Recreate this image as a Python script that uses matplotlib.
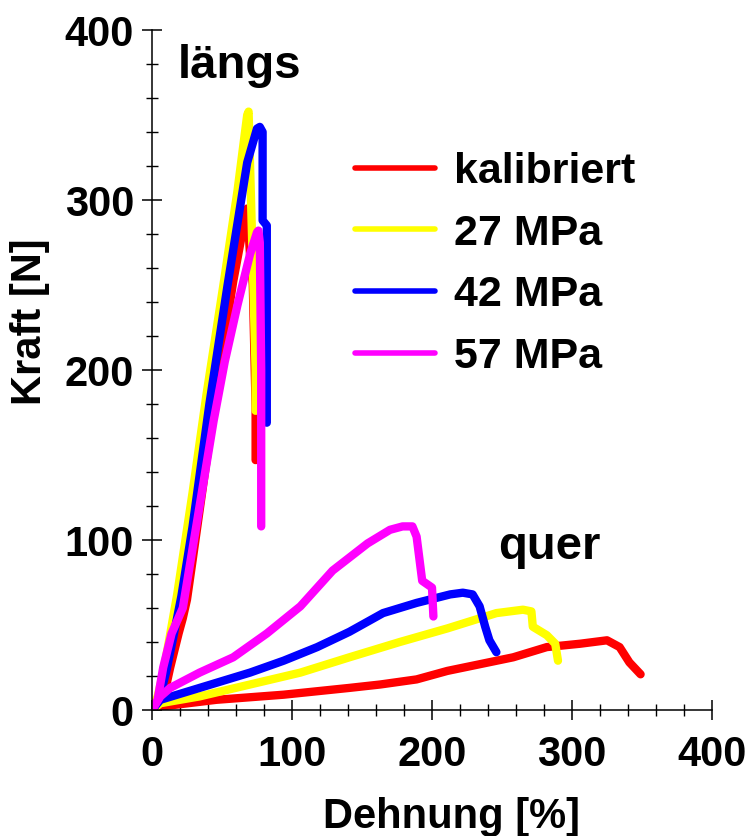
import matplotlib
matplotlib.use("Agg")
import matplotlib.pyplot as plt
from matplotlib.ticker import MultipleLocator

plt.rcParams["font.family"] = ["Liberation Sans", "DejaVu Sans"]
plt.rcParams["font.weight"] = "bold"

# series names and colours
labels = ["kalibriert", "27 MPa", "42 MPa", "57 MPa"]
colors = ["#ff0000", "#ffff00", "#0000ff", "#ff00ff"]

# längs (longitudinal) curves: Dehnung [%], Kraft [N]
kal_l_x = [0, 5, 9, 13, 19, 22, 25, 29, 37, 46, 58, 65, 68, 70, 71, 72, 74, 74]
kal_l_y = [0, 2, 10, 25, 45, 54, 65, 88, 135, 188, 252, 283, 295, 268, 262, 250, 178, 147]
y27_l_x = [0, 4, 8, 12, 18, 29, 39, 51, 61, 68, 69, 70, 72, 74, 74]
y27_l_y = [0, 8, 22, 40, 68, 128, 186, 250, 305, 350, 352, 322, 262, 200, 176]
y42_l_x = [0, 5, 10, 15, 21, 29, 41, 54, 68, 75, 77, 79, 79, 82, 82]
y42_l_y = [0, 6, 22, 42, 67, 108, 180, 250, 322, 342, 343, 340, 288, 285, 169]
y57_l_x = [0, 4, 8, 14, 22, 32, 44, 52, 61, 70, 75, 76, 77, 78, 78]
y57_l_y = [0, 6, 25, 45, 60, 110, 170, 205, 238, 268, 281, 282, 275, 200, 108]

# quer (transverse) curves
kal_q_x = [0, 6, 46, 94, 141, 163, 189, 211, 258, 282, 306, 325, 334, 341, 349]
kal_q_y = [0, 2, 6, 9, 13, 15, 18, 23, 31, 37, 39, 41, 37, 28, 21]
y27_q_x = [0, 6, 34, 70, 106, 141, 177, 211, 246, 265, 271, 272, 282, 288, 290]
y27_q_y = [0, 4, 8, 15, 22, 31, 40, 48, 57, 59, 58, 49, 44, 39, 29]
y42_q_x = [0, 6, 22, 46, 70, 94, 118, 141, 165, 189, 213, 222, 229, 234, 238, 241, 246]
y42_q_y = [0, 6, 10, 16, 22, 29, 37, 46, 57, 63, 68, 69, 68, 61, 49, 41, 34]
y57_q_x = [0, 6, 13, 34, 58, 82, 106, 129, 154, 170, 179, 186, 189, 193, 200, 201]
y57_q_y = [0, 8, 13, 22, 31, 45, 61, 82, 98, 106, 108, 108, 102, 76, 72, 55]

laengs = [(kal_l_x, kal_l_y), (y27_l_x, y27_l_y), (y42_l_x, y42_l_y), (y57_l_x, y57_l_y)]
quer = [(kal_q_x, kal_q_y), (y27_q_x, y27_q_y), (y42_q_x, y42_q_y), (y57_q_x, y57_q_y)]

fig = plt.figure(figsize=(7.51, 8.36), dpi=100)
ax = fig.add_axes([152 / 751, 1 - 710 / 836, 560 / 751, 680 / 836])

line_kw = dict(lw=6, solid_capstyle="round", solid_joinstyle="round")
for (lx, ly), (qx, qy), c, lab in zip(laengs, quer, colors, labels):
    ax.plot(qx, qy, color=c, **line_kw)
    ax.plot(lx, ly, color=c, label=lab, **line_kw)

ax.set_xlim(0, 400)
ax.set_ylim(0, 400)
for s in ["top", "right"]:
    ax.spines[s].set_visible(False)
for s in ["left", "bottom"]:
    ax.spines[s].set_linewidth(1.1)

ax.xaxis.set_major_locator(MultipleLocator(100))
ax.xaxis.set_minor_locator(MultipleLocator(20))
ax.yaxis.set_major_locator(MultipleLocator(100))
ax.yaxis.set_minor_locator(MultipleLocator(20))
ax.tick_params(which="major", direction="inout", length=14, width=1.1,
               labelsize=30, pad=6)
ax.tick_params(which="minor", direction="inout", length=8, width=1)
ax.tick_params(axis="x", which="major", pad=11)
for t in ax.get_xticklabels() + ax.get_yticklabels():
    t.set_fontweight("bold")

fig.text(30 / 751, 1 - 322 / 836, "Kraft [N]", rotation=90, fontsize=30,
         fontweight="bold", ha="center", va="center")
fig.text(452 / 751, (836 - 828) / 836, "Dehnung [%]", fontsize=30,
         fontweight="bold", ha="center", va="baseline")

ax.text(18.6, 372, "längs", fontsize=34, fontweight="bold", va="baseline")
ax.text(247, 89, "quer", fontsize=34, fontweight="bold", va="baseline")

leg = ax.legend(loc="upper left", bbox_to_anchor=((355 - 152) / 560, (710 - 152) / 680),
                frameon=False, handlelength=1.86, handletextpad=0.45,
                labelspacing=0.5, borderpad=0, borderaxespad=0,
                prop={"weight": "bold", "size": 31})
for h in leg.legend_handles:
    h.set_linewidth(4)

fig.savefig("out.png", dpi=100)
